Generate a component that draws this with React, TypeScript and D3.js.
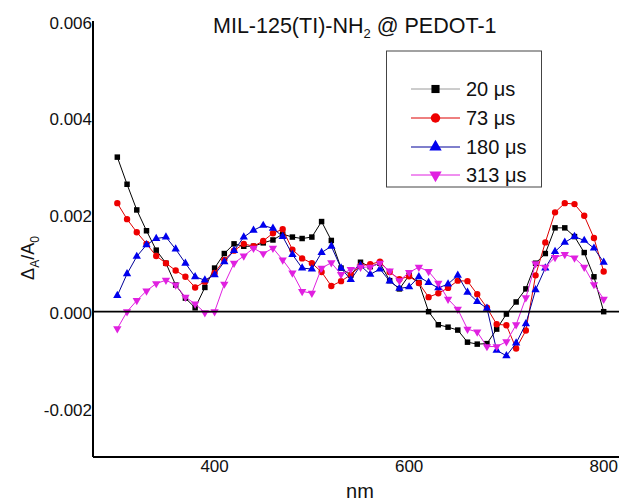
import React from "react";
import * as d3 from "d3";

const wavelengths: number[] = d3.range(300, 801, 10);

const s20: number[] = [
  3.19, 2.63, 2.1, 1.67, 1.27, 1.0, 0.55, 0.28, 0.08, 0.5,
  0.9, 1.2, 1.4, 1.35, 1.35, 1.42, 1.48, 1.6, 1.54, 1.51,
  1.54, 1.86, 1.47, 0.9, 0.75, 1.02, 0.93, 1.0, 0.64, 0.47,
  0.75, 0.6, 0.0, -0.27, -0.32, -0.38, -0.63, -0.67, -0.66, -0.36,
  -0.05, 0.2, 0.47, 1.0, 1.2, 1.73, 1.73, 1.55, 1.22, 0.72, 0.0,
];
const s73: number[] = [
  2.24, 1.91, 1.64, 1.4, 1.15, 1.0, 0.85, 0.72, 0.5, 0.62,
  0.8, 1.07, 1.26, 1.4, 1.35, 1.46, 1.62, 1.7, 1.28, 1.1,
  1.0, 0.82, 0.53, 0.63, 0.76, 0.95, 0.98, 1.03, 0.82, 0.67,
  0.73, 0.59, 0.3, 0.38, 0.49, 0.64, 0.63, 0.36, 0.08, -0.26,
  -0.28, -0.76, -0.39, 0.75, 1.43, 2.05, 2.24, 2.22, 1.98, 1.52, 0.83,
];
const s180: number[] = [
  0.33, 0.78, 1.14, 1.38, 1.51, 1.54, 1.29, 1.0, 0.72, 0.65,
  0.76, 1.03, 1.26, 1.54, 1.68, 1.78, 1.72, 1.55, 1.18, 0.9,
  0.88, 1.22, 1.35, 0.9, 0.66, 0.95, 0.77, 0.88, 0.63, 0.48,
  0.51, 0.72, 0.6, 0.49, 0.57, 0.75, 0.4, 0.21, 0.07, -0.8,
  -0.91, -0.65, -0.25, 0.45, 0.9, 1.24, 1.43, 1.55, 1.47, 1.31, 1.02,
];
const s313: number[] = [
  -0.35, 0.0, 0.23, 0.43, 0.58, 0.65, 0.55, 0.3, 0.16, -0.02,
  0.0, 0.57, 1.0, 1.15, 1.31, 1.2, 1.31, 1.07, 0.8, 0.42,
  0.38, 0.9, 1.01, 0.77, 0.87, 0.92, 0.92, 1.0, 0.84, 0.64,
  0.81, 0.92, 0.83, 0.59, 0.26, 0.05, -0.36, -0.42, -0.72, -0.72,
  -0.62, -0.27, 0.29, 0.99, 0.92, 1.12, 1.18, 1.11, 0.92, 0.56, 0.26,
];

const seriesLabels: string[] = ["20 μs", "73 μs", "180 μs", "313 μs"];
const seriesValues: number[][] = [s20, s73, s180, s313];
const seriesScale = 0.001; // values above are in units of 1e-3

const yTicks: number[] = [-0.002, 0.0, 0.002, 0.004, 0.006];
const xTicks: number[] = [400, 600, 800];

const lineColors = ["#000000", "#dd0000", "#000099", "#e020e0"];
const markColors = ["#000000", "#ee0000", "#0000ee", "#e020e0"];
const legendLineColors = ["#9a9a9a", "#dd0000", "#000099", "#e020e0"];
const markerTypes = [d3.symbolSquare, d3.symbolCircle, d3.symbolTriangle, d3.symbolTriangle];
const markerSizes = [30, 32, 30, 30];

const W = 619;
const H = 501;
const left = 93;
const top = 21;
const bottom = 457;

export default function App() {
  const x = d3.scaleLinear().domain([275, 825]).range([left, 628]);
  const y = d3.scaleLinear().domain([-0.003, 0.006]).range([bottom, top]);
  const line = d3
    .line<[number, number]>()
    .x((d) => x(d[0]))
    .y((d) => y(d[1]));

  const font = "'Liberation Sans', Arial, Helvetica, sans-serif";

  const marker = (i: number, cx: number, cy: number, key: string, scale = 1) => {
    const path = d3.symbol().type(markerTypes[i]).size(markerSizes[i] * scale)()!;
    const rot = i === 3 ? 180 : 0;
    return (
      <path
        key={key}
        d={path}
        transform={`translate(${cx},${cy}) rotate(${rot})`}
        fill={markColors[i]}
        stroke="none"
      />
    );
  };

  const legendX0 = 411;
  const legendX1 = 460;
  const legendRows = [89, 118, 147, 175];

  return (
    <svg
      width={W}
      height={H}
      style={{ position: "fixed", left: 0, top: 0, background: "#fff" }}
      fontFamily={font}
    >
      <rect x={0} y={0} width={W} height={H} fill="#fff" />
      {/* series */}
      {seriesValues.map((vals, i) => {
        const pts: [number, number][] = vals.map((v, j) => [wavelengths[j], v * seriesScale]);
        return (
          <g key={"s" + i}>
            <path d={line(pts)!} fill="none" stroke={lineColors[i]} strokeWidth={1} />
            {pts.map((p, j) => marker(i, x(p[0]), y(p[1]), `m${i}-${j}`))}
          </g>
        );
      })}
      {/* zero line */}
      <line x1={left} x2={W} y1={y(0)} y2={y(0)} stroke="#000" strokeWidth={1.6} />
      {/* axes */}
      <line x1={left} x2={left} y1={top} y2={bottom} stroke="#000" strokeWidth={2} />
      <line x1={left} x2={W} y1={bottom} y2={bottom} stroke="#000" strokeWidth={2} />
      {yTicks.map((t) => (
        <text key={"yt" + t} x={92} y={y(t) + 7.5} textAnchor="end" fontSize={17} fill="#111">
          {d3.format(".3f")(t).replace("−", "-")}
        </text>
      ))}
      {xTicks.map((t) => (
        <text key={"xt" + t} x={x(t)} y={472} textAnchor="middle" fontSize={17} fill="#111">
          {t}
        </text>
      ))}
      {/* axis titles */}
      <text x={360} y={498} textAnchor="middle" fontSize={20} fill="#111">
        nm
      </text>
      <text
        transform="translate(34,258) rotate(-90)"
        textAnchor="middle"
        fontSize={18}
        fill="#111"
      >
        Δ<tspan fontSize={12} dy={5}>A</tspan>
        <tspan dy={-5}>/A</tspan>
        <tspan fontSize={12} dy={5}>0</tspan>
      </text>
      {/* title */}
      <text x={213} y={33} fontSize={21.5} fill="#111">
        MIL-125(TI)-NH<tspan fontSize={13} dy={5}>2</tspan>
        <tspan dy={-5}> @ PEDOT-1</tspan>
      </text>
      {/* legend */}
      <rect x={386.5} y={51} width={155} height={136} fill="#fff" stroke="#444" strokeWidth={1} />
      {seriesLabels.map((lab, i) => (
        <g key={"lg" + i}>
          <line
            x1={legendX0}
            x2={legendX1}
            y1={legendRows[i]}
            y2={legendRows[i]}
            stroke={legendLineColors[i]}
            strokeWidth={1}
          />
          {marker(i, (legendX0 + legendX1) / 2, legendRows[i], "lm" + i, 2.2)}
          <text x={466} y={legendRows[i] + 7} fontSize={20} fill="#111">
            {lab}
          </text>
        </g>
      ))}
    </svg>
  );
}
